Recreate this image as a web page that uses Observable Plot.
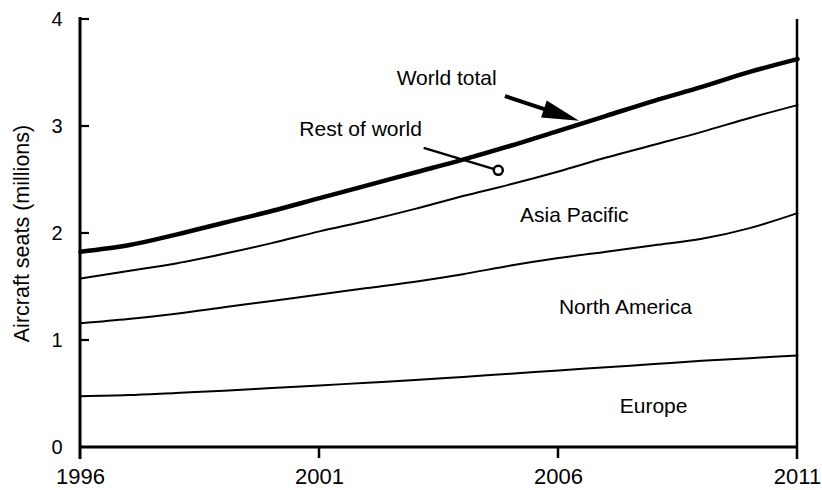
<!DOCTYPE html>
<html>
<head>
<meta charset="utf-8">
<script src="https://cdn.jsdelivr.net/npm/d3@7"></script>
<script src="https://cdn.jsdelivr.net/npm/@observablehq/plot@0.6"></script>
<style>
  html, body { margin: 0; padding: 0; background: #fff; }
  #chart { width: 822px; height: 490px; }
</style>
</head>
<body>
<div id="chart"></div>
<script>
// ---- Data (millions of aircraft seats, cumulative tops of each band) ----
const years        = [1996, 1997, 1998, 1999, 2000, 2001, 2002, 2003, 2004, 2005, 2006, 2007, 2008, 2009, 2010, 2011];
const europe       = [0.48, 0.49, 0.51, 0.53, 0.555, 0.58, 0.605, 0.63, 0.66, 0.69, 0.72, 0.75, 0.78, 0.81, 0.835, 0.86];
const northAmerica = [1.16, 1.20, 1.25, 1.31, 1.37, 1.43, 1.49, 1.55, 1.62, 1.70, 1.77, 1.83, 1.89, 1.95, 2.05, 2.19];
const asiaPacific  = [1.58, 1.65, 1.72, 1.81, 1.91, 2.02, 2.12, 2.23, 2.35, 2.46, 2.58, 2.71, 2.83, 2.95, 3.08, 3.20];
const worldTotal   = [1.83, 1.89, 1.99, 2.10, 2.21, 2.33, 2.45, 2.57, 2.69, 2.82, 2.96, 3.10, 3.24, 3.37, 3.51, 3.63];

const xTicks = [1996, 2001, 2006, 2011];
const yTicks = [0, 1, 2, 3, 4];
const yLabel = "Aircraft seats (millions)";

// Band labels, anchored in data units (year, value at text baseline)
const labelText  = ["World total", "Rest of world", "Asia Pacific", "North America", "Europe"];
const labelYear  = [2003.66, 2001.86, 2006.33, 2007.40, 2007.99];
const labelValue = [3.39, 2.915, 2.11, 1.25, 0.327];

// Leader to the "Rest of world" band (data units)
const rowLeaderFrom = [2003.18, 2.80];
const rowLeaderTo   = [2004.74, 2.59];
// Arrow to the world-total line (data units)
const worldArrowFrom = [2004.89, 3.28];
const worldArrowTo   = [2006.44, 3.05];

// ---- Build tables ----
const seriesNames = ["Europe", "North America", "Asia Pacific"];
const seriesVals  = [europe, northAmerica, asiaPacific];
const regionRows = seriesNames.flatMap((s, i) => years.map((yr, j) => ({series: s, year: yr, value: seriesVals[i][j]})));
const worldRows = years.map((yr, j) => ({year: yr, value: worldTotal[j]}));
const labels = labelText.map((t, i) => ({text: t, year: labelYear[i], value: labelValue[i]}));

// Axis frame + tick marks drawn through Plot's scales
function axisFrame(index, scales) {
  const {x, y} = scales;
  const x0 = x(xTicks[0]), x1 = x(xTicks[xTicks.length - 1]);
  const y0 = y(yTicks[0]), y1 = y(yTicks[yTicks.length - 1]);
  const g = d3.create("svg:g").attr("stroke", "black").attr("fill", "none");
  // left axis (extends a little below zero like the original)
  g.append("line").attr("x1", x0).attr("x2", x0).attr("y1", y1 - 2).attr("y2", y0 + 12).attr("stroke-width", 3);
  // right border
  g.append("line").attr("x1", x1).attr("x2", x1).attr("y1", y1).attr("y2", y0 + 12).attr("stroke-width", 2.5);
  // bottom axis
  g.append("line").attr("x1", x0).attr("x2", x1).attr("y1", y0).attr("y2", y0).attr("stroke-width", 3);
  // inward y ticks
  for (const t of yTicks.filter(d => d > 0)) {
    g.append("line").attr("x1", x0).attr("x2", x0 + 9).attr("y1", y(t)).attr("y2", y(t)).attr("stroke-width", 2.2);
  }
  // downward x ticks
  for (const t of xTicks.slice(1, -1)) {
    g.append("line").attr("x1", x(t)).attr("x2", x(t)).attr("y1", y0).attr("y2", y0 + 11).attr("stroke-width", 2.5);
  }
  return g.node();
}

// Filled-head arrow drawn through Plot's scales
function worldArrow(index, scales) {
  const {x, y} = scales;
  const sx = x(worldArrowFrom[0]), sy = y(worldArrowFrom[1]);
  const tx = x(worldArrowTo[0]),   ty = y(worldArrowTo[1]);
  const dx = tx - sx, dy = ty - sy, len = Math.hypot(dx, dy);
  const ux = dx / len, uy = dy / len, nx = -uy, ny = ux;
  const L = 37, W = 9;
  const bx = tx - L * ux, by = ty - L * uy;
  const g = d3.create("svg:g");
  g.append("line").attr("x1", sx).attr("y1", sy).attr("x2", bx + 2 * ux).attr("y2", by + 2 * uy)
    .attr("stroke", "black").attr("stroke-width", 4);
  g.append("path")
    .attr("d", `M${tx},${ty}L${bx + W * nx},${by + W * ny}L${bx - W * nx},${by - W * ny}Z`)
    .attr("fill", "black");
  return g.node();
}

const FONT = "'Liberation Sans', Arial, Helvetica, sans-serif";

const chart = Plot.plot({
  width: 822,
  height: 490,
  marginLeft: 80,
  marginRight: 25,
  marginTop: 19,
  marginBottom: 43,
  style: {fontFamily: FONT, fontSize: "21px", color: "black", background: "white"},
  x: {domain: [1996, 2011], nice: false},
  y: {domain: [0, 4], nice: false},
  marks: [
    axisFrame,
    Plot.axisY({ticks: yTicks, tickSize: 0, tickPadding: 18, tickFormat: "d", label: null, fontSize: 20}),
    Plot.axisX({ticks: xTicks, tickSize: 0, tickPadding: 21, tickFormat: "d", label: null, fontSize: 22}),
    Plot.text([yLabel], {frameAnchor: "left", dx: -58, rotate: -90, textAnchor: "middle", fontSize: 21.5, fill: "black"}),
    // series
    Plot.line(regionRows, {x: "year", y: "value", z: "series", stroke: "black", strokeWidth: 2, curve: "monotone-x"}),
    Plot.line(worldRows, {x: "year", y: "value", stroke: "black", strokeWidth: 4.5, curve: "monotone-x"}),
    // annotations
    Plot.text(labels, {x: "year", y: "value", text: "text", lineAnchor: "bottom", textAnchor: "middle", fontSize: 21, fill: "black"}),
    Plot.link([0], {x1: rowLeaderFrom[0], y1: rowLeaderFrom[1], x2: rowLeaderTo[0], y2: rowLeaderTo[1], stroke: "black", strokeWidth: 2.5}),
    Plot.dot([0], {x: rowLeaderTo[0], y: rowLeaderTo[1], r: 4.5, fill: "white", stroke: "black", strokeWidth: 2.5}),
    worldArrow
  ]
});
document.getElementById("chart").appendChild(chart);
</script>
</body>
</html>
